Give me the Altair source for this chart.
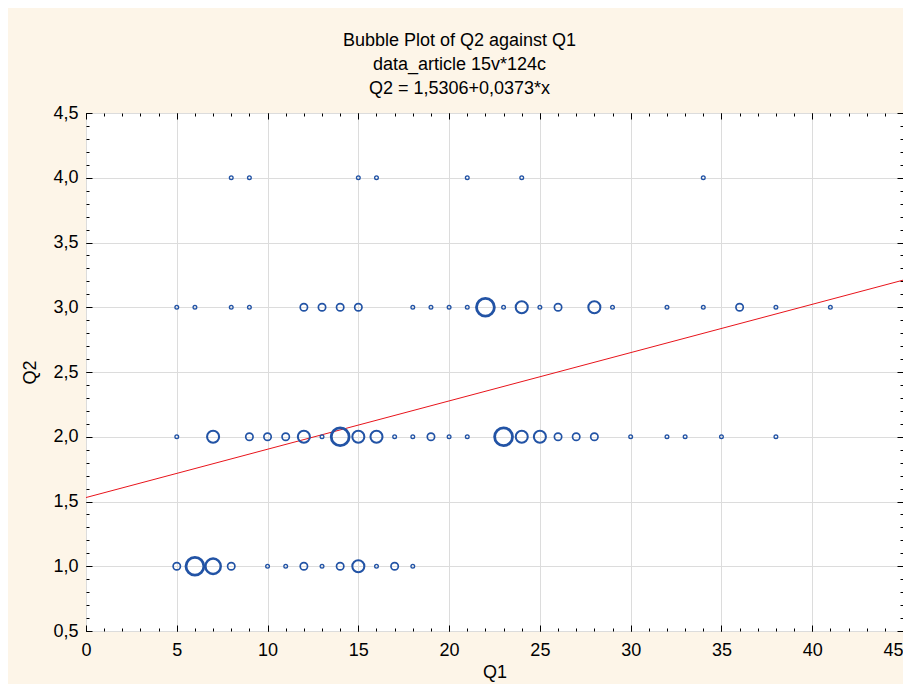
import altair as alt
import pandas as pd

# ---- data (Q1 value, count of cases per bubble) ----
q1_row1 = [5, 6, 7, 8, 10, 11, 12, 13, 14, 15, 16, 17, 18]
n_row1 = [2, 5, 4, 2, 1, 1, 2, 1, 2, 3, 1, 2, 1]

q1_row2 = [5, 7, 9, 10, 11, 12, 13, 14, 15, 16, 17, 18, 19, 20, 21, 23, 24, 25, 26, 27, 28, 30, 32, 33, 35, 38]
n_row2 = [1, 3, 2, 2, 2, 3, 1, 5, 3, 3, 1, 1, 2, 1, 1, 5, 3, 3, 2, 2, 2, 1, 1, 1, 1, 1]

q1_row3 = [5, 6, 8, 9, 12, 13, 14, 15, 18, 19, 20, 21, 22, 23, 24, 25, 26, 28, 29, 32, 34, 36, 38, 41]
n_row3 = [1, 1, 1, 1, 2, 2, 2, 2, 1, 1, 1, 1, 5, 1, 3, 1, 2, 3, 1, 1, 1, 2, 1, 1]

q1_row4 = [8, 9, 15, 16, 21, 24, 34]
n_row4 = [1, 1, 1, 1, 1, 1, 1]

q2_levels = [1.0, 2.0, 3.0, 4.0]

# regression line endpoints (Q2 = 1,5306 + 0,0373*x)
reg_x = [0, 45]
reg_y = [1.5306, 3.2091]

x_major = [0, 5, 10, 15, 20, 25, 30, 35, 40, 45]
x_minor = list(range(0, 46))
y_major = [0.5, 1.0, 1.5, 2.0, 2.5, 3.0, 3.5, 4.0, 4.5]
y_minor = [round(0.5 + 0.1 * i, 1) for i in range(41)]

title_lines = ["Bubble Plot of Q2 against Q1", "data_article 15v*124c", "Q2 = 1,5306+0,0373*x"]

# ---- build tables ----
rows = []
for q2, xs, ns in zip(q2_levels, [q1_row1, q1_row2, q1_row3, q1_row4], [n_row1, n_row2, n_row3, n_row4]):
    for x, n in zip(xs, ns):
        rows.append({"Q1": x, "Q2": q2, "n": n})
df = pd.DataFrame(rows)
reg_df = pd.DataFrame({"x": reg_x, "y": reg_y})

W, H = 817, 518
BLUE = "#2253A5"
FONT = "Liberation Sans"

xscale = alt.Scale(domain=[0, 45], nice=False, zero=False)
yscale = alt.Scale(domain=[0.5, 4.5], nice=False, zero=False)


def tick_axis(orient, values, size, offset):
    return alt.Axis(orient=orient, values=values, tickSize=size, tickColor="black", tickWidth=1,
                    labels=False, grid=False, domain=False, title="", offset=offset)


main_x = alt.Axis(values=x_major, grid=True, gridColor="#DCDCDC", gridWidth=1, ticks=False, domain=False,
                  labelFontSize=18, labelColor="black", labelPadding=10, labelFlush=False, labelOverlap=False,
                  labelAlign={"condition": {"test": "datum.value == 45", "value": "right"}, "value": "center"},
                  title="Q1", titleFontSize=18, titleFontWeight="normal", titleColor="black", titlePadding=4,
                  labelFont=FONT, titleFont=FONT)
main_y = alt.Axis(values=y_major, grid=True, gridColor="#DCDCDC", gridWidth=1, ticks=False, domain=False,
                  labelFontSize=18, labelColor="black", labelPadding=8, labelFlush=False, labelOverlap=False,
                  labelExpr="replace(format(datum.value, '.1f'), '.', ',')",
                  title="Q2", titleFontSize=18, titleFontWeight="normal", titleColor="black", titlePadding=13,
                  labelFont=FONT, titleFont=FONT)

bubbles = alt.Chart(df).mark_point(shape="circle", filled=False, color=BLUE, opacity=1).encode(
    x=alt.X("Q1:Q", scale=xscale, axis=main_x),
    y=alt.Y("Q2:Q", scale=yscale, axis=main_y),
    size=alt.Size("n:Q", scale=alt.Scale(domain=[1, 2, 3, 4, 5], range=[14, 54, 145, 235, 320]), legend=None),
    strokeWidth=alt.StrokeWidth("n:Q", scale=alt.Scale(domain=[1, 5], range=[1.3, 2.8]), legend=None),
)

line = alt.Chart(reg_df).mark_line(color="#E8141B", strokeWidth=1, clip=True).encode(
    x=alt.X("x:Q", scale=xscale, axis=tick_axis("top", x_minor, 3, -H)),
    y=alt.Y("y:Q", scale=yscale, axis=tick_axis("right", y_minor, 3, -W)),
)

ghost = alt.Chart(reg_df).mark_point(opacity=0)
t1 = ghost.encode(
    x=alt.X("x:Q", scale=xscale, axis=tick_axis("top", x_major, 6, -H)),
    y=alt.Y("y:Q", scale=yscale, axis=tick_axis("right", y_major, 6, -W)),
)
t2 = ghost.encode(
    x=alt.X("x:Q", scale=xscale, axis=tick_axis("bottom", x_minor, 3, -H)),
    y=alt.Y("y:Q", scale=yscale, axis=tick_axis("left", y_minor, 3, -W)),
)
t3 = ghost.encode(
    x=alt.X("x:Q", scale=xscale, axis=tick_axis("bottom", x_major, 6, -H)),
    y=alt.Y("y:Q", scale=yscale, axis=tick_axis("left", y_major, 6, -W)),
)

chart = alt.layer(line, bubbles, t1, t2, t3).resolve_axis(
    x="independent", y="independent"
).properties(
    width=W,
    height=H,
    background="#FDF5E8",
    padding={"left": 78, "top": 105, "right": 0, "bottom": 53},
    autosize=alt.AutoSizeParams(type="none"),
    title=alt.TitleParams(text=title_lines, fontSize=18, font=FONT, fontWeight="normal", color="black",
                          anchor="middle", frame="group", dx=-35, offset=6, lineHeight=24),
).configure_view(
    fill="white", stroke="black", strokeWidth=1
)

chart.save("out.html", embed_options={"renderer": "svg", "actions": False})
